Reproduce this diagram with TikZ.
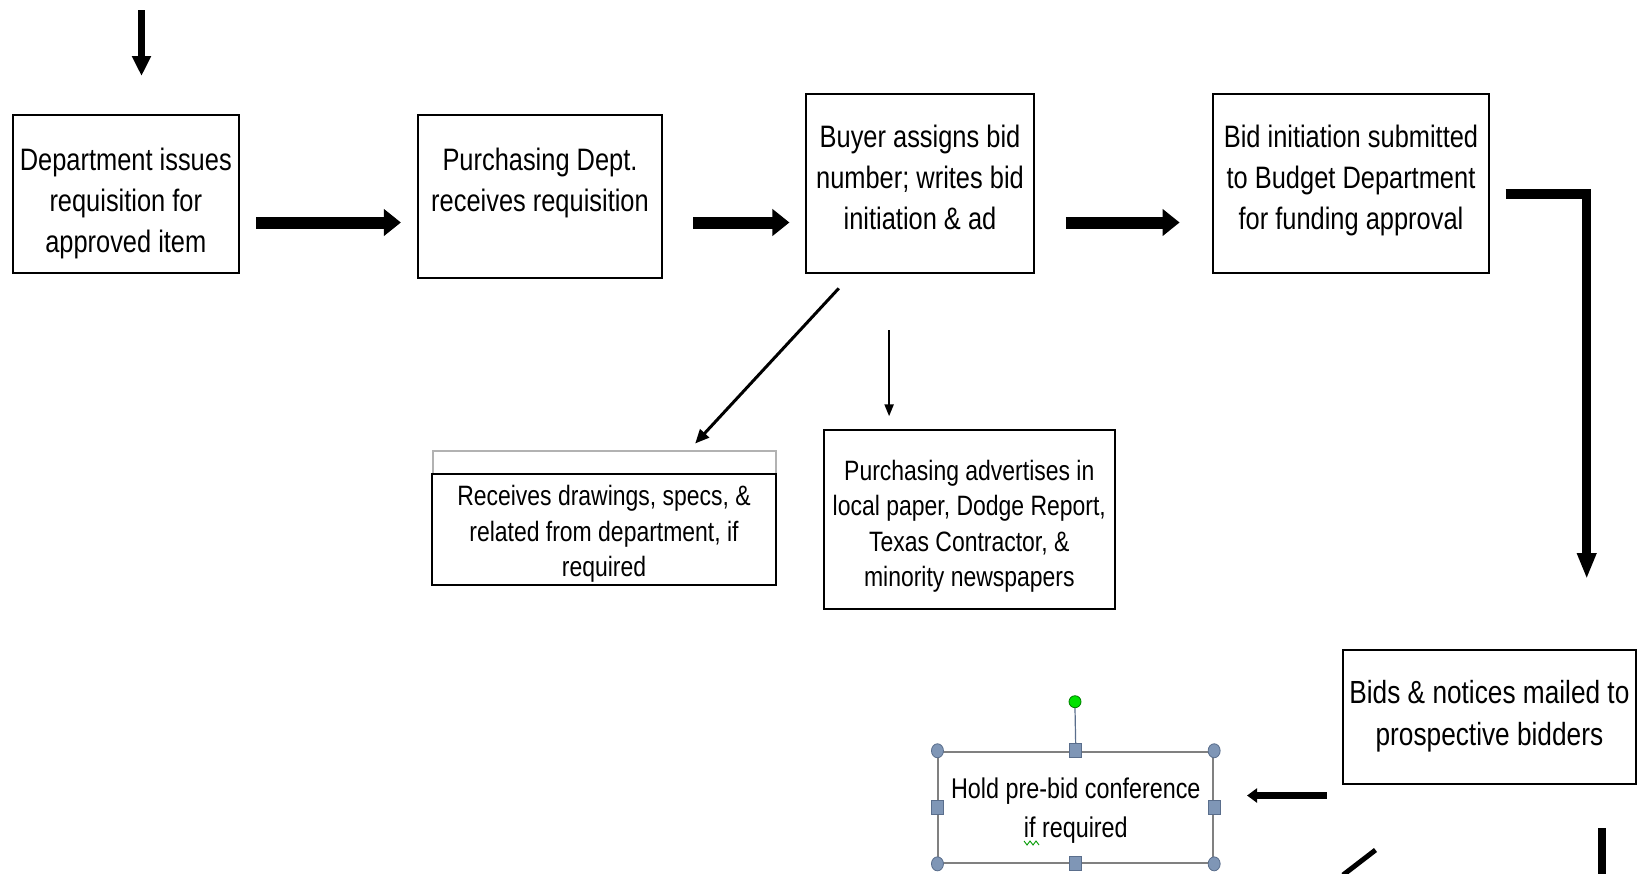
\documentclass[tikz,border=0pt]{standalone}
\usepackage{fontspec}
\setmainfont{Liberation Sans}[FakeStretch=0.82]
\usetikzlibrary{arrows.meta,calc,shapes.geometric}
\definecolor{handle}{RGB}{127,150,182}
\definecolor{handleline}{RGB}{90,110,140}
\definecolor{selgray}{RGB}{128,128,128}
\definecolor{grip}{RGB}{0,225,0}
\begin{document}
\begin{tikzpicture}[x=1pt,y=-1pt,
  box/.style={draw=black, line width=2pt, fill=white, inner sep=0pt},
  txt/.style={align=center, inner sep=0pt, text=black},
  fA/.style={font=\fontsize{31}{41}\selectfont},
  fB/.style={font=\fontsize{28}{35.5}\selectfont},
  fC/.style={font=\fontsize{32}{42}\selectfont},
  fD/.style={font=\fontsize{28.5}{39}\selectfont},
  bigarr/.style={line width=12pt, -{Triangle[length=17pt,width=26pt]}},
  elbowarr/.style={line width=9.5pt, -{Triangle[length=26pt,width=18pt]}},
  toparr/.style={line width=6.5pt, -{Triangle[length=20pt,width=18pt]}},
  thinarr/.style={line width=3pt, -{Triangle[length=14pt,width=12pt]}},
  vthinarr/.style={line width=2.2pt, -{Triangle[length=12pt,width=9pt]}},
  midarr/.style={line width=6.5pt, -{Triangle[length=10pt,width=14pt]}},
  sq/.style={draw=handleline, fill=handle, line width=0.8pt, minimum width=12pt, minimum height=14pt, inner sep=0pt},
  cir/.style={draw=handleline, fill=handle, line width=0.8pt, ellipse, minimum width=12pt, minimum height=14pt, inner sep=0pt},
  ]
\useasboundingbox[fill=white] (0,0) rectangle (1644,873);

% boxes
\node[box, minimum width=226.4pt, minimum height=157.6pt] (b1) at (125.8,193.8) {};
\node[box, minimum width=243.2pt, minimum height=162.6pt] (b2) at (540,196.6) {};
\node[box, minimum width=227.5pt, minimum height=178.2pt] (b3) at (920,183.5) {};
\node[box, minimum width=275.8pt, minimum height=178.2pt] (b4) at (1351,183.5) {};
\node[draw=gray!60, line width=1.5pt, minimum width=342.9pt, minimum height=134.1pt, inner sep=0pt] (b5o) at (604.5,518) {};
\node[box, minimum width=343.9pt, minimum height=111.1pt] (b5) at (604,529.5) {};
\node[box, minimum width=290.5pt, minimum height=179.3pt] (b6) at (969.3,519.5) {};
\node[box, minimum width=292.6pt, minimum height=134.3pt] (b7) at (1489.4,717.2) {};
\node[draw=selgray, line width=2pt, minimum width=274.7pt, minimum height=111.1pt, inner sep=0pt] (b8) at (1075.8,807.3) {};

% texts
\node[txt, fA] (t1) at (125.8,203.6) {Department issues\\requisition for\\approved item};
\node[txt, fA] (t2) at (540,182.6) {Purchasing Dept.\\receives requisition};
\node[txt, fA] (t3) at (920,177.5) {Buyer assigns bid\\number; writes bid\\initiation \& ad};
\node[txt, fA] (t4) at (1351,180.6) {Bid initiation submitted\\to Budget Department\\for funding approval};
\node[txt, fB] (t5) at (604,534) {Receives drawings, specs, \&\\related from department, if\\required};
\node[txt, fB] (t6) at (969.3,526.2) {Purchasing advertises in\\local paper, Dodge Report,\\Texas Contractor, \&\\minority newspapers};
\node[txt, fC] (t7) at (1489.4,716) {Bids \& notices mailed to\\prospective bidders};
\node[txt, fD] (t8) at (1075.8,811) {Hold pre-bid conference\\if required};

% connectors
\coordinate (top) at (141.5,10);
\coordinate (r1) at (0,222.5);
\coordinate (r2) at (0,194);
\coordinate (elbowend) at (1586.7,579);
\coordinate (d1) at (838.8,288.3);
\coordinate (d2) at (695.2,443.5);
\coordinate (v1) at (889.1,330.3);
\coordinate (v2) at (889.1,416.3);
\coordinate (r3) at (0,795.5);
\coordinate (bd1) at (1375.5,850);
\coordinate (bd2) at (1343,875);
\coordinate (bv1) at (1602,828);
\coordinate (bv2) at (1602,880);

\draw[toparr] (top) -- (141.5,76);
\draw[bigarr, shorten <=16pt, shorten >=16.5pt] (b1.east |- r1) -- (b2.west |- r1);
\draw[bigarr, shorten <=30.4pt, shorten >=15.8pt] (b2.east |- r1) -- (b3.west |- r1);
\draw[bigarr, shorten <=31.2pt, shorten >=32.5pt] (b3.east |- r1) -- (b4.west |- r1);
\draw[elbowarr, shorten <=15.7pt] (b4.east |- r2) -| (elbowend);
\draw[thinarr] (d1) -- (d2);
\draw[vthinarr] (v1) -- (v2);
\draw[midarr, shorten <=15.6pt, shorten >=32.9pt] (b7.west |- r3) -- (b8.east |- r3);
\draw[line width=5pt] (bd1) -- (bd2);
\draw[line width=8.5pt] (bv1) -- (bv2);

% selection handles on the pre-bid box
\node[circle, draw=green!50!black, fill=grip, line width=0.8pt, minimum size=12pt, inner sep=0pt] (g) at (1075,701.7) {};
\draw[handleline, line width=1.2pt] (g.south) -- (b8.north);
\node[cir] (h1) at (b8.north west) {};
\node[cir] (h2) at (b8.north east) {};
\node[cir] (h3) at (b8.south west) {};
\node[cir] (h4) at (b8.south east) {};
\node[sq] (h5) at (b8.north) {};
\node[sq] (h6) at (b8.south) {};
\node[sq] (h7) at (b8.west) {};
\node[sq] (h8) at (b8.east) {};

% spell-check squiggle under "if"
\draw[green!60!black, line width=0.9pt] (1024,841) -- (1027,845) -- (1030,841) -- (1033,845) -- (1036,841) -- (1039,845);
\end{tikzpicture}
\end{document}
